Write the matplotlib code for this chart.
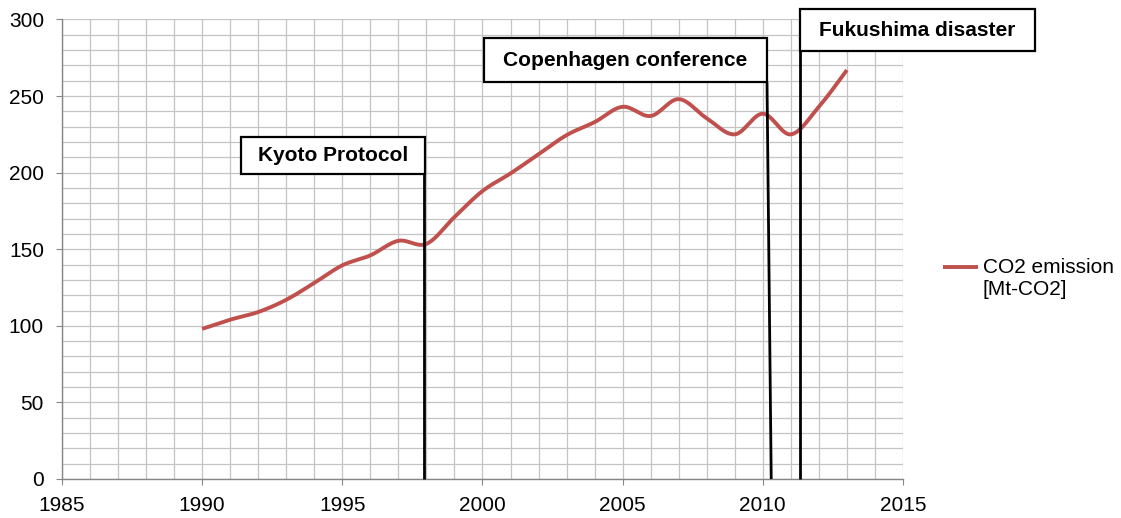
import matplotlib.pyplot as plt
import numpy as np
from matplotlib.patches import Rectangle
from matplotlib.ticker import MultipleLocator

plt.rcParams['font.family'] = ['Liberation Sans', 'DejaVu Sans']

# CO2 emission per year
years = [1990, 1991, 1992, 1993, 1994, 1995, 1996, 1997, 1998, 1999, 2000, 2001,
         2002, 2003, 2004, 2005, 2006, 2007, 2008, 2009, 2010, 2011, 2012, 2013]
co2 = [98, 104, 109, 117, 128, 139.5, 146, 155.5, 153.5, 171, 188, 199.5,
       212, 224.5, 233, 243, 237, 248, 235.5, 225, 238.5, 225, 243, 267]

# events: label, year where the line meets the axis
event_names = ['Kyoto Protocol', 'Copenhagen conference', 'Fukushima disaster']
event_years = [1997.9, 2010.3, 2011.33]

# callout boxes (x0, x1, y0, y1 in data units) and where the line leaves the box
boxes = [(1991.4, 1997.95, 199, 223.5),
         (2000.05, 2010.15, 259, 287.7),
         (2011.33, 2019.7, 279.2, 306.6)]
line_top = [(1997.9, 199), (2010.15, 259), (2011.33, 279.2)]


def smooth(x, y, n=30):
    # excel style smoothed line (bezier through the points)
    p = np.column_stack([x, y]).astype(float)
    p = np.vstack([p[0], p, p[-1]])
    out = []
    for i in range(1, len(p) - 2):
        p0, p1, p2, p3 = p[i - 1], p[i], p[i + 1], p[i + 2]
        c1 = p1 + (p2 - p0) / 6
        c2 = p2 - (p3 - p1) / 6
        t = np.linspace(0, 1, n)[:, None]
        seg = ((1 - t) ** 3) * p1 + 3 * ((1 - t) ** 2) * t * c1 + 3 * (1 - t) * t ** 2 * c2 + t ** 3 * p2
        out.append(seg if i == 1 else seg[1:])
    out = np.vstack(out)
    return out[:, 0], out[:, 1]


fig = plt.figure(figsize=(11.21, 5.18), dpi=100)
ax = fig.add_axes([0.0553, 0.0753, 0.7502, 0.8871])

sx, sy = smooth(years, co2)
ax.plot(sx, sy, color='#C0504D', lw=2.8, solid_capstyle='butt',
        label='CO2 emission\n[Mt-CO2]', zorder=3)

ax.set_xlim(1985, 2015)
ax.set_ylim(0, 300)
ax.xaxis.set_major_locator(MultipleLocator(5))
ax.xaxis.set_minor_locator(MultipleLocator(1))
ax.yaxis.set_major_locator(MultipleLocator(50))
ax.yaxis.set_minor_locator(MultipleLocator(10))
ax.grid(True, which='both', color='#C4C4C4', lw=0.9)
ax.set_axisbelow(True)

for s in ['top', 'right']:
    ax.spines[s].set_visible(False)
for s in ['left', 'bottom']:
    ax.spines[s].set_color('#868686')
    ax.spines[s].set_linewidth(1.0)
ax.tick_params(which='major', length=4.5, color='#868686', labelsize=15)
ax.tick_params(axis='y', pad=8.5)
ax.tick_params(axis='x', pad=8)
ax.tick_params(which='minor', length=0)

for name, yr, b, top in zip(event_names, event_years, boxes, line_top):
    x0, x1, y0, y1 = b
    ax.add_patch(Rectangle((x0, y0), x1 - x0, y1 - y0, facecolor='white',
                           edgecolor='black', lw=1.6, clip_on=False, zorder=5))
    ax.text((x0 + x1) / 2, (y0 + y1) / 2, name, ha='center', va='center',
            fontsize=15, fontweight='bold', zorder=6, clip_on=False)
    ax.plot([top[0], yr], [top[1], 0], color='black', lw=2, zorder=4,
            clip_on=False, solid_capstyle='butt')

leg = ax.legend(loc='center left', bbox_to_anchor=(1.0476, 0.436), frameon=False,
                fontsize=15, handlelength=1.7, handletextpad=0.2,
                borderpad=0, borderaxespad=0)
# excel puts the legend key next to the first line of the label
hl = leg.get_lines()[0]
hl.set_ydata(np.asarray(hl.get_ydata()) + 8.3)

fig.savefig('out.png', dpi=100)
